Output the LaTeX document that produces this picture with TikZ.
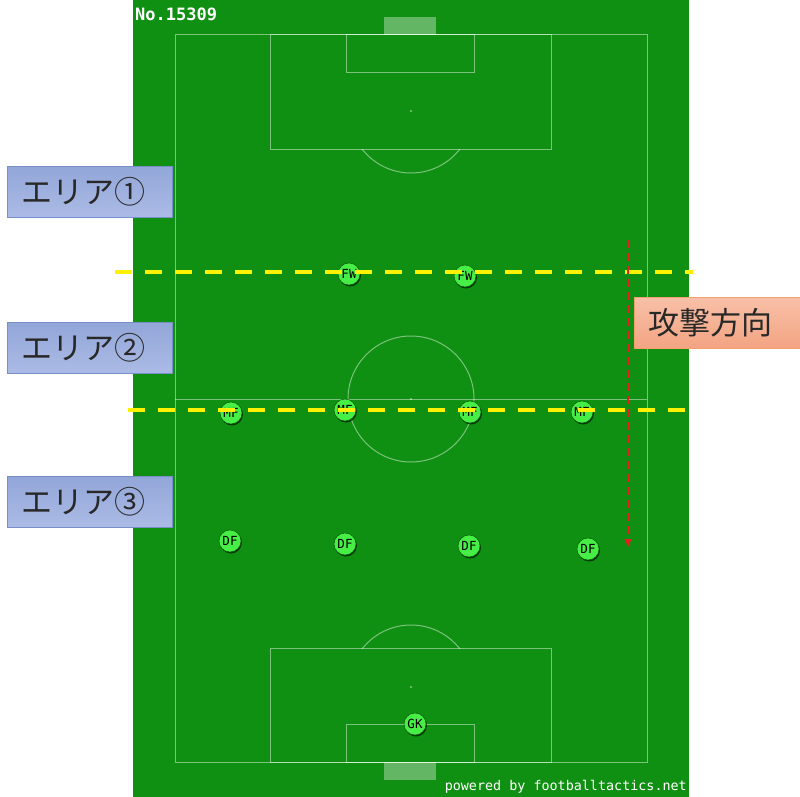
\documentclass[tikz,border=0pt]{standalone}
\usepackage{fontspec}
\setmonofont{DejaVu Sans Mono}
\newfontfamily\jpfont{Noto Sans CJK JP}
\usetikzlibrary{arrows.meta,shadows}
\definecolor{turf}{RGB}{16,144,18}
\definecolor{chip}{RGB}{70,238,70}
\definecolor{chiprim}{RGB}{10,90,10}
\definecolor{areafill}{RGB}{146,166,216}
\definecolor{areafilltwo}{RGB}{172,187,230}
\definecolor{arearim}{RGB}{120,142,200}
\definecolor{dirfill}{RGB}{248,192,168}
\definecolor{dirfilltwo}{RGB}{243,164,130}
\definecolor{dirrim}{RGB}{242,160,112}
\definecolor{atkred}{RGB}{228,30,30}
\definecolor{inktxt}{RGB}{40,40,40}
\begin{document}
\begin{tikzpicture}[x=1pt,y=-1pt]
    \tikzstyle{pline}=[draw=white,draw opacity=0.45,line width=1pt]
    \tikzstyle{player}=[circle,fill=chip,draw=chiprim,line width=0.5pt,minimum size=22pt,inner sep=0pt,
      drop shadow={shadow xshift=1pt,shadow yshift=-1.5pt,fill=black,opacity=0.6},
      font=\ttfamily\fontsize{12.5}{12.5}\selectfont]
    \tikzstyle{zoneline}=[yellow,line width=4pt,dash pattern=on 17pt off 13pt]
    \tikzstyle{areabox}=[draw=arearim,top color=areafill,bottom color=areafilltwo,minimum width=165pt,minimum height=51pt,
      inner sep=0pt,text=inktxt,font=\jpfont\fontsize{31}{31}\selectfont]
    \tikzstyle{dirbox}=[draw=dirrim,top color=dirfill,bottom color=dirfilltwo,minimum width=166pt,minimum height=51pt,
      inner sep=0pt,text=inktxt,font=\jpfont\fontsize{31}{31}\selectfont]
    \useasboundingbox (0,0) rectangle (800,797);
    % turf and markings
    \fill[turf] (133,0) rectangle (689,797);
    \draw[pline] (175,35) rectangle (647,762);
    \draw[pline] (175,399) -- (647,399);
    \draw[pline] (411,399) circle (63);
    \draw[pline] (270,35) rectangle (551,149);
    \draw[pline] (346,35) rectangle (474,73);
    \draw[pline] (270,648) rectangle (551,762);
    \draw[pline] (346,724) rectangle (474,762);
    \begin{scope}
      \clip (133,149) rectangle (689,200);
      \draw[pline] (411,111) circle (62);
    \end{scope}
    \begin{scope}
      \clip (133,600) rectangle (689,648);
      \draw[pline] (411,687) circle (62);
    \end{scope}
    \fill[white,opacity=0.35] (384,17) rectangle (436,35);
    \fill[white,opacity=0.35] (384,762) rectangle (436,780);
    \fill[white,opacity=0.5] (411,111) circle (1.2) (411,399) circle (1.2) (411,687) circle (1.2);
    \node[anchor=west,text=white,font=\ttfamily\bfseries\fontsize{17}{17}\selectfont,inner sep=0pt] (no) at (135,14) {No.15309};
    \node[anchor=east,text=white,font=\ttfamily\fontsize{13.4}{13.4}\selectfont,inner sep=0pt] (credit) at (687,787) {powered by footballtactics.net};
    % players
    \node[player] (fw1) at (349,274) {FW};
    \node[player] (fw2) at (465,276) {FW};
    \node[player] (mf1) at (231,413) {MF};
    \node[player] (mf2) at (345,410) {MF};
    \node[player] (mf3) at (470,412) {MF};
    \node[player] (mf4) at (582,412) {MF};
    \node[player] (df1) at (230,541) {DF};
    \node[player] (df2) at (345,544) {DF};
    \node[player] (df3) at (469,546) {DF};
    \node[player] (df4) at (588,549) {DF};
    \node[player] (gk) at (415,724) {GK};
    % zone borders
    \coordinate (zoneAw) at (115,272);
    \coordinate (zoneAe) at (693,272);
    \coordinate (zoneBw) at (128,410);
    \coordinate (zoneBe) at (693,410);
    \draw[zoneline] (zoneAw) -- (zoneAe);
    \draw[zoneline] (zoneBw) -- (zoneBe);
    % attack direction
    \coordinate (atkS) at (628,240);
    \coordinate (atkE) at (628,548);
    \draw[atkred,line width=2pt,dash pattern=on 8pt off 5pt,-{Latex[length=9pt,width=8pt]}] (atkS) -- (atkE);
    \node[dirbox] (dir) at (717,322.5) {\hspace*{-14pt}攻撃方向};
    % areas
    \node[areabox] (area1) at (89.5,192) {\hspace*{-12pt}エリア①};
    \node[areabox] (area2) at (89.5,348) {\hspace*{-12pt}エリア②};
    \node[areabox] (area3) at (89.5,502) {\hspace*{-12pt}エリア③};
\end{tikzpicture}
\end{document}
